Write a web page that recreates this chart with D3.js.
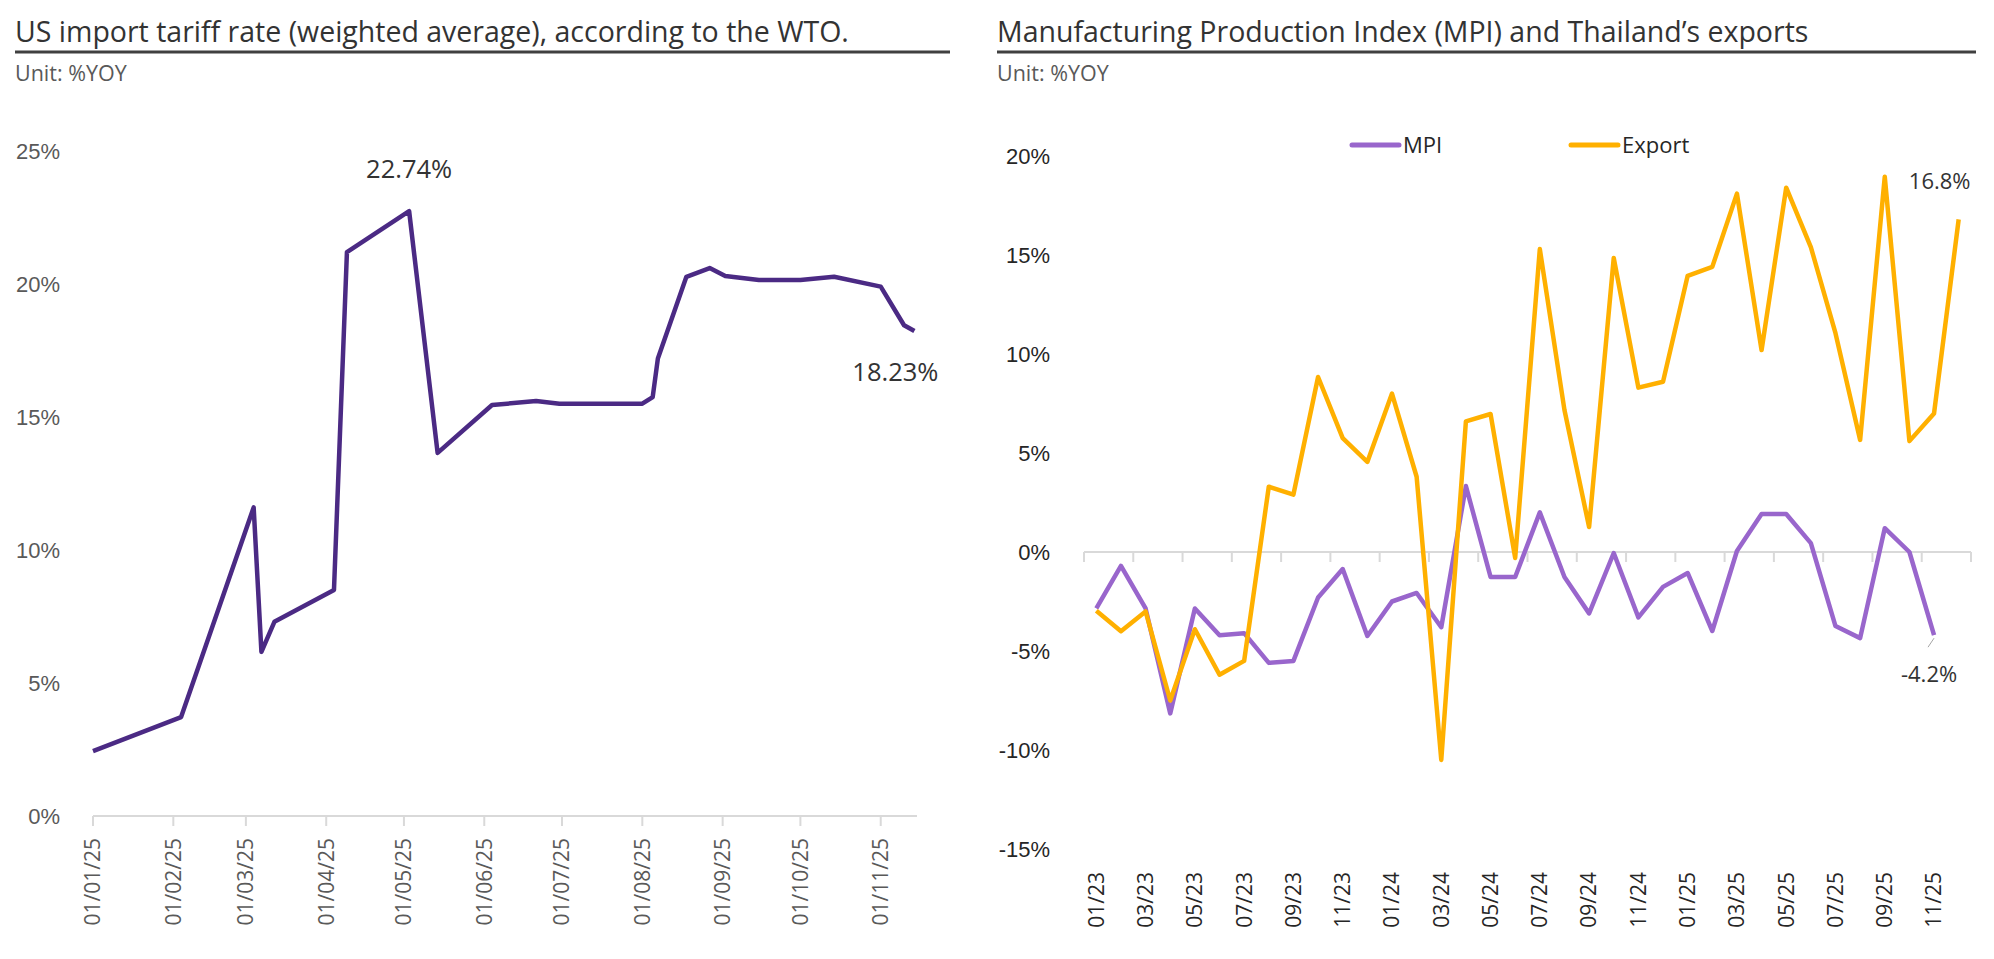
<!DOCTYPE html>
<html>
<head>
<meta charset="UTF-8">
<title>US tariff rate and Thai MPI / exports</title>
<script src="https://cdn.jsdelivr.net/npm/d3@7"></script>
<style>
  body { margin: 0; background: #fff; }
  svg { font-family: "Open Sans", "Noto Sans", sans-serif; }
</style>
</head>
<body>
<script>
// ---- left chart data: US weighted average tariff rate (%)
var tariffDates = ["2025-01-01","2025-02-04","2025-03-04","2025-03-07","2025-03-12","2025-04-04",
  "2025-04-09","2025-05-03","2025-05-14","2025-06-04","2025-06-21","2025-06-30","2025-08-01",
  "2025-08-05","2025-08-07","2025-08-18","2025-08-27","2025-09-02","2025-09-15","2025-10-01",
  "2025-10-14","2025-11-01","2025-11-10","2025-11-14"];
var tariffRate = [2.44,3.72,11.6,6.17,7.3,8.5,21.2,22.74,13.65,15.45,15.6,15.5,15.5,15.75,
  17.2,20.27,20.6,20.3,20.15,20.15,20.27,19.9,18.45,18.23];
var tariffTicksY = [0,5,10,15,20,25];

// ---- right chart data: MPI and exports (%YOY), monthly 01/23 - 12/25
var months = [];
[2023,2024,2025].forEach(function(y){ for (var m = 1; m <= 12; m++) months.push((m<10?"0":"")+m+"/"+String(y).slice(2)); });
var mpi = [-2.85,-0.7,-2.85,-8.15,-2.85,-4.2,-4.1,-5.6,-5.5,-2.3,-0.86,-4.24,-2.5,-2.07,-3.8,3.33,
  -1.26,-1.26,2.0,-1.26,-3.1,-0.05,-3.3,-1.76,-1.06,-3.99,0.05,1.92,1.92,0.45,-3.74,-4.35,1.2,0.0,-4.2];
var exportG = [-2.97,-4.0,-3.0,-7.5,-3.9,-6.2,-5.5,3.3,2.9,8.84,5.75,4.55,8.0,3.8,-10.5,6.6,6.97,
  -0.3,15.3,7.17,1.26,14.85,8.3,8.6,13.95,14.4,18.1,10.2,18.4,15.4,11.05,5.66,18.95,5.6,7.0,16.8];
var rightTicksY = [-15,-10,-5,0,5,10,15,20];

var parse = d3.timeParse("%Y-%m-%d");

var svg = d3.select("body").append("svg")
  .attr("width", 1994)
  .attr("height", 959);

// titles
function header(x0, x1, title) {
  svg.append("text").attr("x", x0).attr("y", 42)
    .attr("font-size", 28.5).attr("fill", "#333").text(title);
  svg.append("line").attr("x1", x0).attr("x2", x1).attr("y1", 52).attr("y2", 52)
    .attr("stroke", "#404040").attr("stroke-width", 3);
  svg.append("text").attr("x", x0).attr("y", 81)
    .attr("font-size", 21.5).attr("fill", "#595959").text("Unit: %YOY");
}
header(15, 950, "US import tariff rate (weighted average), according to the WTO.");
header(997, 1976, "Manufacturing Production Index (MPI) and Thailand\u2019s exports");

// ================= left chart =================
var xL = d3.scaleTime().domain([parse("2025-01-01"), parse("2025-11-15")]).range([93, 917]);
var yL = d3.scaleLinear().domain([0, 25]).range([816, 151]);

var gL = svg.append("g");
gL.append("g").attr("transform", "translate(93,0)")
  .call(d3.axisLeft(yL).tickValues(tariffTicksY).tickFormat(function(d){ return d + "%"; })
    .tickSize(0).tickPadding(33))
  .call(function(g){ g.select(".domain").remove(); })
  .selectAll("text").attr("font-size", 22).attr("fill", "#595959").attr("font-family", null);

gL.append("line").attr("x1", xL.range()[0]).attr("x2", xL.range()[1])
  .attr("y1", yL(0)).attr("y2", yL(0)).attr("stroke", "#d9d9d9").attr("stroke-width", 2);

var monthStarts = d3.timeMonth.range(parse("2025-01-01"), parse("2025-11-02"));
gL.selectAll(".tk").data(monthStarts).enter().append("line")
  .attr("x1", function(d){ return xL(d); }).attr("x2", function(d){ return xL(d); })
  .attr("y1", yL(0)).attr("y2", yL(0) + 10)
  .attr("stroke", "#d9d9d9").attr("stroke-width", 2);
var fmtL = d3.timeFormat("%d/%m/%y");
gL.selectAll(".tl").data(monthStarts).enter().append("text")
  .attr("transform", function(d){ return "translate(" + xL(d) + "," + (yL(0) + 22) + ") rotate(-90)"; })
  .attr("text-anchor", "end").attr("dy", "0.35em")
  .attr("font-size", 21).attr("fill", "#595959")
  .text(function(d){ return fmtL(d); });

var tariff = tariffDates.map(function(d, i){ return { date: parse(d), v: tariffRate[i] }; });
gL.append("path").datum(tariff)
  .attr("fill", "none").attr("stroke", "#4b2a84").attr("stroke-width", 4.5)
  .attr("stroke-linejoin", "round")
  .attr("d", d3.line().x(function(d){ return xL(d.date); }).y(function(d){ return yL(d.v); }));

var peak = tariff[7], last = tariff[tariff.length - 1];
gL.append("text").attr("x", xL(peak.date)).attr("y", yL(peak.v) - 33)
  .attr("text-anchor", "middle").attr("font-size", 25.5).attr("fill", "#333").text(peak.v.toFixed(2) + "%");
gL.append("text").attr("x", xL(last.date) - 19).attr("y", yL(last.v) + 50)
  .attr("text-anchor", "middle").attr("font-size", 25.5).attr("fill", "#333").text(last.v.toFixed(2) + "%");

// ================= right chart =================
var xR = d3.scaleBand().domain(months).range([1084, 1971]);
var bw = xR.bandwidth();
var yR = d3.scaleLinear().domain([-15, 20]).range([849, 156]);

var gR = svg.append("g");
gR.append("g").attr("transform", "translate(1084,0)")
  .call(d3.axisLeft(yR).tickValues(rightTicksY).tickFormat(function(d){ return d + "%"; })
    .tickSize(0).tickPadding(34))
  .call(function(g){ g.select(".domain").remove(); })
  .selectAll("text").attr("font-size", 22).attr("fill", "#262626").attr("font-family", null);

gR.append("line").attr("x1", xR.range()[0]).attr("x2", xR.range()[1])
  .attr("y1", yR(0)).attr("y2", yR(0)).attr("stroke", "#d9d9d9").attr("stroke-width", 2);

var evenMonths = months.filter(function(d, i){ return i % 2 === 0; });
var tickXs = evenMonths.map(function(m){ return xR(m); }).concat([xR.range()[1]]);
gR.selectAll(".tk").data(tickXs).enter().append("line")
  .attr("x1", function(d){ return d; }).attr("x2", function(d){ return d; })
  .attr("y1", yR(0)).attr("y2", yR(0) + 10)
  .attr("stroke", "#d9d9d9").attr("stroke-width", 2);
gR.selectAll(".tl").data(evenMonths).enter().append("text")
  .attr("transform", function(m){ return "translate(" + (xR(m) + bw / 2) + ",872) rotate(-90)"; })
  .attr("text-anchor", "end").attr("dy", "0.35em")
  .attr("font-size", 21).attr("fill", "#262626")
  .text(function(m){ return m; });

var lineR = d3.line()
  .x(function(d, i){ return xR(months[i]) + bw / 2; })
  .y(function(d){ return yR(d); });

gR.append("path").datum(mpi)
  .attr("fill", "none").attr("stroke", "#9966cc").attr("stroke-width", 4.5)
  .attr("stroke-linejoin", "round").attr("d", lineR);
gR.append("path").datum(exportG)
  .attr("fill", "none").attr("stroke", "#ffb000").attr("stroke-width", 4.5)
  .attr("stroke-linejoin", "round").attr("d", lineR);

// legend
var legend = [{ name: "MPI", color: "#9966cc", x: 1352 }, { name: "Export", color: "#ffb000", x: 1571 }];
legend.forEach(function(l){
  gR.append("line").attr("x1", l.x).attr("x2", l.x + 47).attr("y1", 145).attr("y2", 145)
    .attr("stroke", l.color).attr("stroke-width", 5).attr("stroke-linecap", "round");
  gR.append("text").attr("x", l.x + 51).attr("y", 145).attr("dy", "0.35em")
    .attr("font-size", 22).attr("fill", "#262626").text(l.name);
});

// end labels
var nE = exportG.length - 1, nM = mpi.length - 1;
var exX = xR(months[nE]) + bw / 2, mpX = xR(months[nM]) + bw / 2;
gR.append("text").attr("x", exX - 19).attr("y", yR(exportG[nE]) - 30)
  .attr("text-anchor", "middle").attr("font-size", 22).attr("fill", "#333").text(exportG[nE].toFixed(1) + "%");
gR.append("line").attr("x1", mpX).attr("y1", yR(mpi[nM]) + 3).attr("x2", mpX - 6).attr("y2", yR(mpi[nM]) + 12)
  .attr("stroke", "#a6a6a6").attr("stroke-width", 1);
gR.append("text").attr("x", mpX - 5).attr("y", yR(mpi[nM]) + 47)
  .attr("text-anchor", "middle").attr("font-size", 22).attr("fill", "#333").text(mpi[nM].toFixed(1) + "%");
</script>
</body>
</html>
